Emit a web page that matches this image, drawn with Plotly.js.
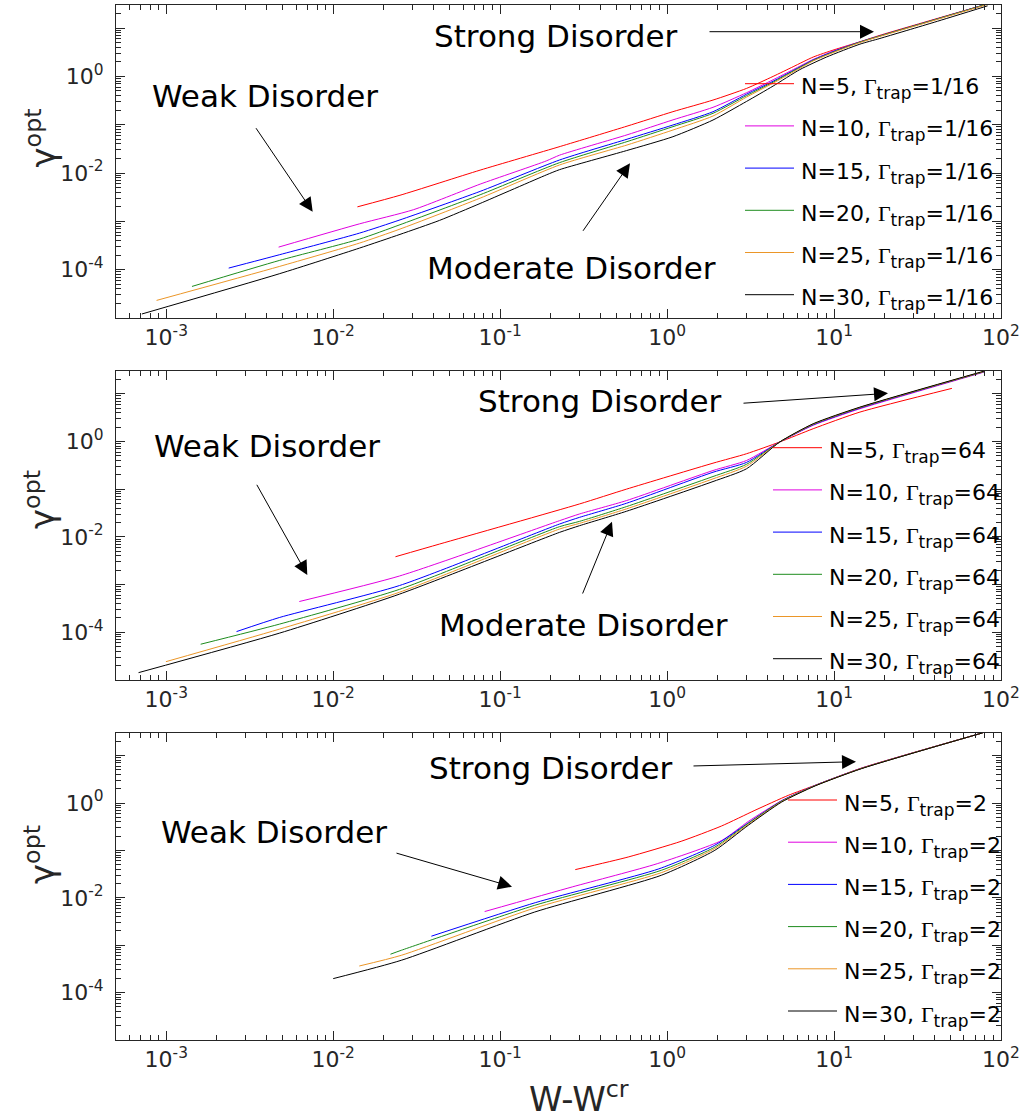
<!DOCTYPE html>
<html>
<head>
<meta charset="utf-8">
<script src="https://cdn.plot.ly/plotly-3.0.1.min.js"></script>
<style>
  html, body { margin: 0; padding: 0; background: #ffffff; }
  #plot { width: 1028px; height: 1119px; }
</style>
</head>
<body>
<div id="plot"></div>
<script>
// ---- data: log10(W - W^cr) and log10(gamma^opt) for each system size N ----
// Panel A: Gamma_trap = 1/16
const logW_a5  = [-1.855, -1.60, -1.12, -0.64, -0.24, 0.035, 0.275, 0.475, 0.635, 0.755, 0.875, 1.0, 1.155, 1.275, 1.6, 1.92];
const logG_a5  = [-2.70, -2.46, -1.94, -1.45, -1.03, -0.73, -0.49, -0.25, 0.0, 0.2, 0.40, 0.55, 0.715, 0.85, 1.18, 1.50];
const logW_a10 = [-2.327, -1.843, -1.52, -1.12, -0.724, -0.644, -0.24, 0.035, 0.275, 0.475, 0.635, 0.755, 0.875, 1.0, 1.155, 1.6, 1.92];
const logG_a10 = [-3.533, -3.052, -2.76, -2.23, -1.75, -1.63, -1.21, -0.90, -0.64, -0.34, -0.07, 0.14, 0.35, 0.53, 0.715, 1.17, 1.50];
const logW_a15 = [-2.626, -2.323, -1.843, -1.60, -1.12, -0.644, -0.24, 0.035, 0.275, 0.475, 0.635, 0.755, 0.875, 1.0, 1.155, 1.6, 1.92];
const logG_a15 = [-3.967, -3.692, -3.244, -2.97, -2.38, -1.73, -1.30, -1.006, -0.731, -0.37, -0.10, 0.12, 0.34, 0.52, 0.71, 1.17, 1.50];
const logW_a20 = [-2.846, -2.323, -1.843, -1.60, -1.12, -0.644, -0.24, 0.035, 0.275, 0.475, 0.635, 0.755, 0.875, 1.0, 1.155, 1.6, 1.92];
const logG_a20 = [-4.347, -3.81, -3.368, -3.07, -2.45, -1.785, -1.35, -1.04, -0.764, -0.40, -0.12, 0.11, 0.33, 0.51, 0.71, 1.17, 1.50];
const logW_a25 = [-3.058, -2.323, -1.843, -1.60, -1.12, -0.644, -0.24, 0.035, 0.275, 0.475, 0.635, 0.755, 0.875, 1.0, 1.155, 1.6, 1.92];
const logG_a25 = [-4.636, -3.934, -3.45, -3.16, -2.52, -1.833, -1.42, -1.11, -0.82, -0.43, -0.14, 0.09, 0.32, 0.50, 0.70, 1.16, 1.49];
const logW_a30 = [-3.146, -2.323, -1.843, -1.60, -1.363, -1.12, -0.724, -0.644, -0.244, 0.035, 0.275, 0.475, 0.635, 0.795, 0.955, 1.155, 1.275, 1.6, 1.92];
const logG_a30 = [-4.917, -4.085, -3.554, -3.27, -2.98, -2.63, -2.04, -1.93, -1.537, -1.248, -0.903, -0.52, -0.20, 0.14, 0.40, 0.667, 0.785, 1.12, 1.46];

// Panel B: Gamma_trap = 64
const logW_b5  = [-1.627, -1.363, -0.524, -0.244, 0.275, 0.475, 0.675, 0.875, 1.155, 1.706];
const logG_b5  = [-2.416, -2.15, -1.309, -1.0, -0.455, -0.258, -0.01, 0.267, 0.616, 1.113];
const logW_b10 = [-2.203, -1.603, -0.644, -0.524, -0.244, 0.275, 0.475, 0.675, 0.875, 1.155, 1.904];
const logG_b10 = [-3.355, -2.82, -1.66, -1.519, -1.24, -0.609, -0.40, -0.01, 0.34, 0.686, 1.46];
const logW_b15 = [-2.579, -2.323, -1.603, -0.644, -0.524, -0.244, 0.275, 0.475, 0.675, 0.875, 1.155, 1.904];
const logG_b15 = [-3.985, -3.691, -3.02, -1.73, -1.59, -1.296, -0.645, -0.44, -0.01, 0.35, 0.70, 1.47];
const logW_b20 = [-2.794, -2.323, -1.603, -0.644, -0.524, -0.244, 0.275, 0.475, 0.675, 0.875, 1.155, 1.904];
const logG_b20 = [-4.25, -3.83, -3.10, -1.786, -1.674, -1.366, -0.735, -0.48, -0.01, 0.36, 0.71, 1.47];
const logW_b25 = [-3.002, -2.323, -1.603, -0.644, -0.524, -0.244, 0.275, 0.475, 0.675, 0.875, 1.155, 1.904];
const logG_b25 = [-4.616, -3.935, -3.16, -1.835, -1.716, -1.414, -0.784, -0.52, -0.01, 0.365, 0.715, 1.475];
const logW_b30 = [-3.166, -2.323, -1.603, -0.644, -0.524, -0.244, 0.275, 0.475, 0.675, 0.875, 1.155, 1.904];
const logG_b30 = [-4.846, -4.019, -3.20, -1.905, -1.765, -1.464, -0.84, -0.574, -0.01, 0.372, 0.72, 1.48];

// Panel C: Gamma_trap = 2
const logW_c5  = [-0.55, -0.233, 0.084, 0.326, 0.526, 0.726, 0.886, 1.165, 1.89];
const logG_c5  = [-1.405, -1.139, -0.808, -0.485, -0.154, 0.162, 0.373, 0.738, 1.48];
const logW_c10 = [-1.093, -0.568, -0.059, 0.327, 0.486, 0.686, 0.886, 1.165, 1.89];
const logG_c10 = [-2.29, -1.77, -1.28, -0.79, -0.39, 0.05, 0.37, 0.735, 1.48];
const logW_c15 = [-1.412, -0.787, -0.05, 0.286, 0.486, 0.686, 0.886, 1.165, 1.89];
const logG_c15 = [-2.81, -2.10, -1.39, -0.89, -0.42, 0.045, 0.37, 0.732, 1.48];
const logW_c20 = [-1.657, -1.592, -0.793, -0.035, 0.286, 0.486, 0.686, 0.886, 1.165, 1.89];
const logG_c20 = [-3.19, -3.107, -2.158, -1.42, -0.93, -0.43, 0.04, 0.365, 0.73, 1.48];
const logW_c25 = [-1.844, -1.592, -0.793, -0.035, 0.286, 0.486, 0.686, 0.886, 1.165, 1.89];
const logG_c25 = [-3.439, -3.213, -2.215, -1.47, -0.96, -0.45, 0.03, 0.365, 0.73, 1.48];
const logW_c30 = [-2.0, -1.592, -0.793, -0.035, 0.286, 0.486, 0.686, 0.886, 1.165, 1.89];
const logG_c30 = [-3.705, -3.318, -2.30, -1.525, -0.998, -0.47, 0.02, 0.36, 0.726, 1.48];

// series labels
const sizesN = [5, 10, 15, 20, 25, 30];
const trapLabels = ['1/16', '64', '2'];
const seriesColors = ['#ff0000', '#e000e0', '#0000ff', '#1e8c1e', '#eb9628', '#000000'];

// tick labels
const xDecades = [-3, -2, -1, 0, 1, 2];
const xTickText = ['10<sup>-3</sup>', '10<sup>-2</sup>', '10<sup>-1</sup>', '10<sup>0</sup>', '10<sup>1</sup>', '10<sup>2</sup>'];
const yDecades = [-5, -4, -3, -2, -1, 0, 1];
const yTickText = ['', '10<sup>-4</sup>', '', '10<sup>-2</sup>', '', '10<sup>0</sup>', ''];

// ---- layout geometry (pixels in a 1028 x 1119 canvas) ----
const FW = 1028, FH = 1119;
const px = v => v / FW;
const py = v => 1 - v / FH;
const boxLeft = 116, boxRight = 1001;
const boxTop = [5, 371, 733];
const boxBottom = [318, 680, 1040];
const X_RANGE = [Math.log10(5e-4), 2];
const Y_RANGE = [-5, Math.log10(30)];

const panels = [
  { w: [logW_a5, logW_a10, logW_a15, logW_a20, logW_a25, logW_a30],
    g: [logG_a5, logG_a10, logG_a15, logG_a20, logG_a25, logG_a30] },
  { w: [logW_b5, logW_b10, logW_b15, logW_b20, logW_b25, logW_b30],
    g: [logG_b5, logG_b10, logG_b15, logG_b20, logG_b25, logG_b30] },
  { w: [logW_c5, logW_c10, logW_c15, logW_c20, logW_c25, logW_c30],
    g: [logG_c5, logG_c10, logG_c15, logG_c20, logG_c25, logG_c30] }
];

const pow10 = v => Math.pow(10, v);
const axisGray = '#262626';
const tickFont = { family: 'DejaVu Sans', size: 22, color: axisGray };

function minorValues(d0, d1, lo, hi) {
  const out = [];
  for (let d = d0; d <= d1; d++) {
    for (let m = 2; m <= 9; m++) {
      const v = m * Math.pow(10, d);
      if (v >= lo && v <= hi) out.push(v);
    }
  }
  return out;
}
const xMinor = minorValues(-4, 1, pow10(X_RANGE[0]), 100);
const yMinor = minorValues(-5, 1, 1e-5, 30);

function xAxis(k) {
  return {
    type: 'log', range: X_RANGE, domain: [px(boxLeft), px(boxRight)],
    anchor: 'y' + (k ? k + 1 : ''),
    showline: true, linecolor: axisGray, linewidth: 1, mirror: 'allticks',
    ticks: 'inside', ticklen: 9, tickwidth: 1, tickcolor: axisGray,
    tickmode: 'array', tickvals: xDecades.map(pow10), ticktext: xTickText,
    tickfont: tickFont, ticklabelstandoff: 0,
    minor: { tickmode: 'array', tickvals: xMinor, ticks: 'inside', ticklen: 5,
             tickwidth: 1, tickcolor: axisGray, showgrid: false },
    showgrid: false, zeroline: false, fixedrange: true
  };
}
function yAxis(k) {
  return {
    type: 'log', range: Y_RANGE, domain: [py(boxBottom[k]), py(boxTop[k])],
    anchor: 'x' + (k ? k + 1 : ''),
    showline: true, linecolor: axisGray, linewidth: 1, mirror: 'allticks',
    ticks: 'inside', ticklen: 9, tickwidth: 1, tickcolor: axisGray,
    tickmode: 'array', tickvals: yDecades.map(pow10), ticktext: yTickText,
    tickfont: tickFont, ticklabelstandoff: 7,
    minor: { tickmode: 'array', tickvals: yMinor, ticks: 'inside', ticklen: 5,
             tickwidth: 1, tickcolor: axisGray, showgrid: false },
    showgrid: false, zeroline: false, fixedrange: true
  };
}

// ---- traces ----
const traces = [];
panels.forEach((p, k) => {
  const suffix = k ? String(k + 1) : '';
  p.w.forEach((wArr, i) => {
    traces.push({
      x: wArr.map(pow10), y: p.g[i].map(pow10),
      type: 'scatter', mode: 'lines',
      line: { color: seriesColors[i], width: 1, shape: 'spline', smoothing: 0.6 },
      xaxis: 'x' + suffix, yaxis: 'y' + suffix,
      name: 'N=' + sizesN[i], showlegend: false, hoverinfo: 'skip'
    });
  });
});

// ---- hand-placed legends (sample line + label) ----
const legendLine = [[745, 794], [773, 822], [788, 837]];
const legendRow0 = [83.7, 447.7, 800];
const legendStep = 42.2;
const shapes = [];
const annotations = [];
panels.forEach((p, k) => {
  sizesN.forEach((n, i) => {
    const yy = legendRow0[k] + i * legendStep;
    shapes.push({ type: 'line', xref: 'paper', yref: 'paper',
      x0: px(legendLine[k][0]), x1: px(legendLine[k][1]), y0: py(yy), y1: py(yy),
      line: { color: seriesColors[i], width: 1 } });
    annotations.push({ xref: 'paper', yref: 'paper', x: px(legendLine[k][1] + 5), y: py(yy),
      xanchor: 'left', yanchor: 'middle', showarrow: false, yshift: -5,
      text: 'N=' + n + ', <span style="font-family:Liberation Serif">Γ</span>' +
            '<sub><span style="font-size:17px">trap</span></sub>=' + trapLabels[k],
      font: { family: 'DejaVu Sans', size: 22, color: '#000000' } });
  });
});

// ---- regime labels and arrows ----
const labelFont = { family: 'DejaVu Sans', size: 31, color: '#000000' };
function label(text, left, cy) {
  annotations.push({ xref: 'paper', yref: 'paper', x: px(left), y: py(cy),
    xanchor: 'left', yanchor: 'middle', text: text, showarrow: false, font: labelFont });
}
function arrow(tx, ty, hx, hy) {
  annotations.push({ xref: 'paper', yref: 'paper', x: px(hx), y: py(hy),
    axref: 'pixel', ayref: 'pixel', ax: tx - hx, ay: ty - hy, text: '',
    showarrow: true, arrowhead: 2, arrowsize: 2.8, arrowwidth: 1, arrowcolor: '#000000',
    standoff: 0, startstandoff: 0 });
}
label('Weak Disorder', 150, 96);
arrow(255, 126.7, 312.7, 211.7);
label('Strong Disorder', 432, 36.3);
arrow(708, 31.7, 874, 31.7);
label('Moderate Disorder', 425, 268);
arrow(582, 232.3, 630, 163.3);

label('Weak Disorder', 151.7, 445.7);
arrow(256, 483.3, 307.3, 575);
label('Strong Disorder', 476, 401.3);
arrow(742, 403.3, 888, 393.3);
label('Moderate Disorder', 436.8, 625);
arrow(582, 595, 612, 521.7);

label('Weak Disorder', 159.3, 832);
arrow(395, 852.7, 512, 886.7);
label('Strong Disorder', 427.2, 768);
arrow(692, 766, 856, 761.7);

// ---- axis titles ----
const titleFont = { family: 'DejaVu Sans', size: 34, color: axisGray };
[138.5, 500, 855].forEach(cy => {
  annotations.push({ xref: 'paper', yref: 'paper', x: px(40), y: py(cy),
    xanchor: 'center', yanchor: 'middle', textangle: -90, showarrow: false,
    text: 'γ<sup>opt</sup>', font: titleFont });
});
annotations.push({ xref: 'paper', yref: 'paper', x: px(579), y: py(1097),
  xanchor: 'center', yanchor: 'middle', showarrow: false,
  text: 'W-W<sup>cr</sup>', font: titleFont });

const layout = {
  width: FW, height: FH,
  margin: { l: 0, r: 0, t: 0, b: 0 },
  paper_bgcolor: '#ffffff', plot_bgcolor: '#ffffff',
  showlegend: false,
  xaxis: xAxis(0), yaxis: yAxis(0),
  xaxis2: xAxis(1), yaxis2: yAxis(1),
  xaxis3: xAxis(2), yaxis3: yAxis(2),
  shapes: shapes,
  annotations: annotations
};

Plotly.newPlot('plot', traces, layout, { displayModeBar: false, staticPlot: true });
</script>
</body>
</html>
